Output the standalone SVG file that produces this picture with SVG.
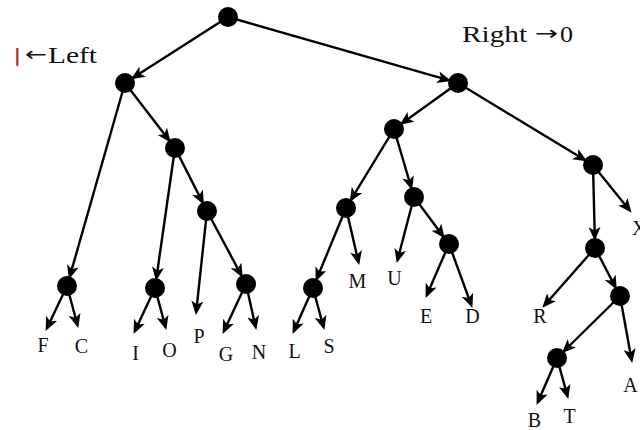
<svg xmlns="http://www.w3.org/2000/svg" width="640" height="430" viewBox="0 0 640 430">
<style>
.e{stroke:#000;stroke-width:2.4;fill:none;marker-end:url(#ah)}
.n{fill:#000}
.lb{font-family:"Liberation Serif","DejaVu Serif",serif;font-size:20px;fill:#111;text-anchor:middle}
.hd{font-family:"Liberation Serif","DejaVu Serif",serif;font-size:24px;fill:#111}
.ar{font-family:"DejaVu Sans","Liberation Sans",sans-serif;font-size:20px;fill:#111}
</style>
<defs>
<marker id="ah" markerUnits="userSpaceOnUse" viewBox="0 0 14 12" markerWidth="14" markerHeight="12" refX="11" refY="6" orient="auto">
<path d="M0,0 L14,6 L0,12 L3.5,6 z" fill="#000"/>
</marker>
</defs>
<rect width="640" height="430" fill="#fff"/>
<g id="headings">
<text x="14" y="62" style="font-family:'DejaVu Sans',sans-serif;font-size:18px;font-weight:bold;fill:#b02418">|</text>
<text class="ar" x="25" y="61" textLength="22" lengthAdjust="spacingAndGlyphs">←</text>
<text class="hd" x="48" y="63" textLength="49" lengthAdjust="spacingAndGlyphs">Left</text>
<text class="hd" x="462" y="42" textLength="65" lengthAdjust="spacingAndGlyphs">Right</text>
<text class="ar" x="535" y="40" textLength="23" lengthAdjust="spacingAndGlyphs">→</text>
<text class="hd" x="560" y="42" textLength="13" lengthAdjust="spacingAndGlyphs">0</text>
</g>
<g id="connectors">
<line class="e" x1="228" y1="17" x2="133.4" y2="77.6"/>
<line class="e" x1="228" y1="17" x2="448.4" y2="80.2"/>
<line class="e" x1="125" y1="83" x2="69.8" y2="276.4"/>
<line class="e" x1="125" y1="83" x2="168.9" y2="140.1"/>
<line class="e" x1="175" y1="148" x2="156.4" y2="278.1"/>
<line class="e" x1="175" y1="148" x2="202.5" y2="202.1"/>
<line class="e" x1="207" y1="211" x2="196.2" y2="312"/>
<line class="e" x1="207" y1="211" x2="241.3" y2="275.2"/>
<line class="e" x1="67" y1="286" x2="46.9" y2="328.2"/>
<line class="e" x1="67" y1="286" x2="77.5" y2="325.1"/>
<line class="e" x1="155" y1="288" x2="134.8" y2="331.2"/>
<line class="e" x1="155" y1="288" x2="165.5" y2="327.1"/>
<line class="e" x1="246" y1="284" x2="223.9" y2="331.2"/>
<line class="e" x1="246" y1="284" x2="255.6" y2="327"/>
<line class="e" x1="458" y1="83" x2="402.1" y2="123.2"/>
<line class="e" x1="458" y1="83" x2="584.5" y2="159.8"/>
<line class="e" x1="394" y1="129" x2="351.2" y2="199.4"/>
<line class="e" x1="394" y1="129" x2="411.2" y2="187.4"/>
<line class="e" x1="346" y1="208" x2="316.8" y2="278.7"/>
<line class="e" x1="346" y1="208" x2="358.5" y2="262.1"/>
<line class="e" x1="313" y1="288" x2="293.8" y2="331.2"/>
<line class="e" x1="313" y1="288" x2="323.5" y2="327.1"/>
<line class="e" x1="414" y1="197" x2="397.5" y2="260.1"/>
<line class="e" x1="414" y1="197" x2="443" y2="236"/>
<line class="e" x1="449" y1="244" x2="426.8" y2="295.2"/>
<line class="e" x1="449" y1="244" x2="471.3" y2="305.1"/>
<line class="e" x1="593" y1="165" x2="594.8" y2="238"/>
<line class="e" x1="593" y1="165" x2="629.7" y2="210.4"/>
<line class="e" x1="595" y1="248" x2="544.3" y2="305.5"/>
<line class="e" x1="595" y1="248" x2="615.4" y2="287.1"/>
<line class="e" x1="620" y1="296" x2="564.1" y2="351"/>
<line class="e" x1="620" y1="296" x2="631.6" y2="360"/>
<line class="e" x1="557" y1="358" x2="537.8" y2="402.2"/>
<line class="e" x1="557" y1="358" x2="567.5" y2="396.1"/>
</g>
<g id="root"><circle class="n" cx="228" cy="17" r="10"/></g>
<g id="n-l1"><circle class="n" cx="125" cy="83" r="10"/></g>
<g id="n-r1"><circle class="n" cx="458" cy="83" r="10"/></g>
<g id="n-fc"><circle class="n" cx="67" cy="286" r="10"/></g>
<g id="n-l2"><circle class="n" cx="175" cy="148" r="10"/></g>
<g id="n-io"><circle class="n" cx="155" cy="288" r="10"/></g>
<g id="n-l3"><circle class="n" cx="207" cy="211" r="10"/></g>
<g id="n-gn"><circle class="n" cx="246" cy="284" r="10"/></g>
<g id="n-r2"><circle class="n" cx="394" cy="129" r="10"/></g>
<g id="n-r3"><circle class="n" cx="346" cy="208" r="10"/></g>
<g id="n-ls"><circle class="n" cx="313" cy="288" r="10"/></g>
<g id="n-r4"><circle class="n" cx="414" cy="197" r="10"/></g>
<g id="n-ed"><circle class="n" cx="449" cy="244" r="10"/></g>
<g id="n-r5"><circle class="n" cx="593" cy="165" r="10"/></g>
<g id="n-r6"><circle class="n" cx="595" cy="248" r="10"/></g>
<g id="n-r7"><circle class="n" cx="620" cy="296" r="10"/></g>
<g id="n-bt"><circle class="n" cx="557" cy="358" r="10"/></g>
<g id="leaves">
<text class="lb" x="43" y="352">F</text>
<text class="lb" x="81.5" y="353">C</text>
<text class="lb" x="135.5" y="360">I</text>
<text class="lb" x="169.5" y="357">O</text>
<text class="lb" x="199" y="343">P</text>
<text class="lb" x="226" y="361">G</text>
<text class="lb" x="259" y="359">N</text>
<text class="lb" x="294.5" y="358">L</text>
<text class="lb" x="329" y="353">S</text>
<text class="lb" x="357.5" y="288">M</text>
<text class="lb" x="394.5" y="285">U</text>
<text class="lb" x="426" y="323">E</text>
<text class="lb" x="472.5" y="323">D</text>
<text class="lb" x="540" y="323">R</text>
<text class="lb" x="632" y="235" style="text-anchor:start">X</text>
<text class="lb" x="630.5" y="392">A</text>
<text class="lb" x="534.5" y="427">B</text>
<text class="lb" x="569.5" y="423">T</text>
</g>
</svg>
